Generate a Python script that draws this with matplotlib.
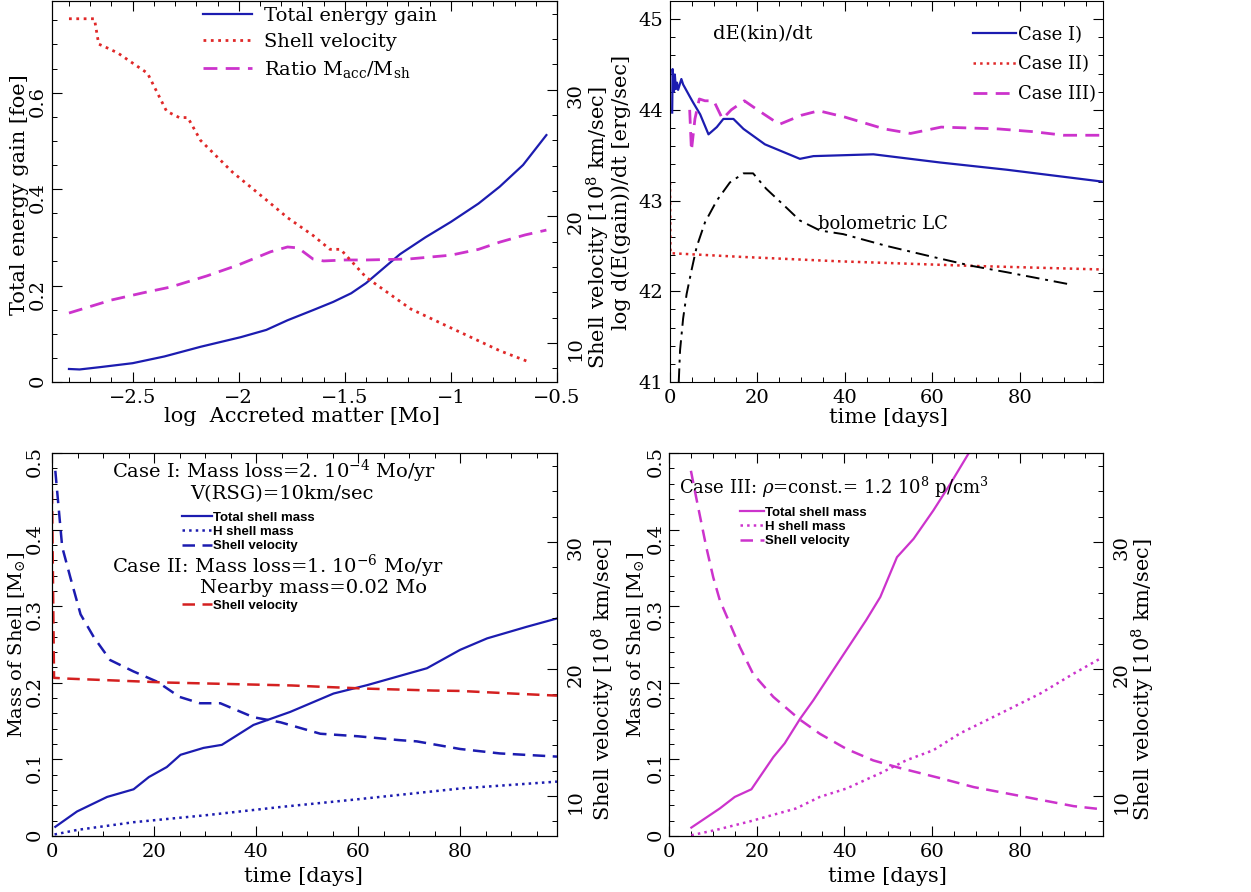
import numpy as np
import matplotlib.pyplot as plt
from matplotlib.ticker import MultipleLocator, FuncFormatter

plt.rcParams['font.family'] = 'DejaVu Serif'
plt.rcParams['mathtext.fontset'] = 'dejavuserif'
plt.rcParams['font.size'] = 13

W, H = 1251, 892

BLUE = '#1c1cb0'
RED = '#e02828'
MAGENTA = '#cc33cc'

# ---------------- top left: vs log accreted matter ----------------
acc_energy_x = [-2.80, -2.75, -2.65, -2.50, -2.35, -2.18, -1.99, -1.87, -1.77, -1.65, -1.555,
                -1.47, -1.40, -1.32, -1.24, -1.12, -1.0, -0.87, -0.77, -0.66, -0.55]
energy_gain = [0.027, 0.026, 0.031, 0.039, 0.053, 0.073, 0.093, 0.108, 0.128, 0.149, 0.166,
               0.184, 0.205, 0.235, 0.265, 0.300, 0.332, 0.370, 0.405, 0.450, 0.512]

acc_vel_x = [-2.80, -2.68, -2.66, -2.62, -2.57, -2.43, -2.34, -2.28, -2.24, -2.18, -2.03, -1.87,
             -1.77, -1.65, -1.57, -1.52, -1.40, -1.19, -1.0, -0.77, -0.63]
shell_vel = [35.6, 35.6, 33.6, 33.3, 32.9, 31.3, 28.3, 27.8, 27.8, 26.0, 23.5, 21.3,
             19.9, 18.5, 17.4, 17.4, 15.2, 12.7, 11.2, 9.4, 8.5]

acc_ratio_x = [-2.80, -2.6, -2.45, -2.32, -2.15, -2.0, -1.85, -1.77, -1.72, -1.65, -1.6, -1.5,
               -1.4, -1.2, -1.0, -0.87, -0.77, -0.65, -0.55]
ratio = [0.143, 0.170, 0.185, 0.197, 0.220, 0.243, 0.270, 0.280, 0.278, 0.255, 0.251, 0.253,
         0.253, 0.255, 0.263, 0.275, 0.290, 0.305, 0.315]

# ---------------- top right: dE/dt ----------------
t_case1 = [0.5, 0.6, 0.9, 1.1, 1.35, 1.6, 1.85, 2.6, 3.0, 4.6, 5.3, 6.9, 8.8, 10.7, 12.2, 14.5,
           16.8, 21.7, 29.7, 32.8, 46.5, 61.7, 77.0, 98.7]
dedt_case1 = [43.97, 44.45, 44.2, 44.39, 44.23, 44.3, 44.22, 44.34, 44.28, 44.14, 44.08, 43.95,
              43.73, 43.81, 43.9, 43.9, 43.79, 43.62, 43.46, 43.49, 43.51, 43.42, 43.34, 43.21]

t_case2 = [0.0, 0.1, 16.0, 38.9, 69.0, 99.0]
dedt_case2 = [43.2, 42.42, 42.38, 42.33, 42.28, 42.24]

t_case3 = [4.5, 4.9, 5.7, 6.7, 8.0, 10.0, 12.0, 14.0, 17.0, 20.0, 25.0, 30.0, 34.0, 40.0,
           49.0, 55.0, 62.0, 75.0, 83.0, 90.0, 99.0]
dedt_case3 = [44.0, 43.55, 43.9, 44.12, 44.1, 44.1, 43.9, 44.0, 44.1, 44.0, 43.84, 43.94, 43.99,
              43.92, 43.79, 43.74, 43.81, 43.79, 43.76, 43.72, 43.72]

t_bol = [2.0, 2.3, 3.0, 3.8, 5.0, 6.1, 8.0, 10.7, 13.7, 16.8, 19.0, 22.0, 26.0, 29.7, 34.3,
         39.6, 49.5, 60.0, 69.0, 77.0, 91.0]
lum_bol = [41.0, 41.35, 41.7, 41.97, 42.25, 42.49, 42.76, 43.0, 43.2, 43.3, 43.3, 43.13, 42.95,
           42.78, 42.67, 42.63, 42.5, 42.38, 42.28, 42.21, 42.08]

# ---------------- bottom left: Case I / II ----------------
t1_mass = [0.65, 4.9, 10.8, 16.0, 19.0, 22.5, 25.2, 29.7, 33.3, 39.5, 46.7, 55.2, 61.8, 73.5,
           80.0, 85.3, 93.0, 99.0]
mass1 = [0.012, 0.032, 0.051, 0.061, 0.077, 0.090, 0.106, 0.115, 0.119, 0.145, 0.162, 0.186,
         0.197, 0.219, 0.243, 0.258, 0.273, 0.284]

t1_hmass = [0.5, 5.0, 16.0, 30.0, 45.0, 60.0, 80.0, 99.0]
hmass1 = [0.002, 0.008, 0.018, 0.027, 0.038, 0.048, 0.062, 0.071]

t1_vel = [0.65, 1.3, 2.0, 3.6, 5.6, 8.2, 11.4, 16.0, 20.6, 25.0, 29.0, 33.0, 39.5, 44.8, 52.6,
          60.0, 68.0, 71.5, 80.0, 87.8, 99.0]
vel1 = [35.6, 32.7, 29.6, 27.2, 24.3, 22.5, 20.7, 19.8, 19.0, 17.8, 17.3, 17.3, 16.2, 15.8, 14.9,
        14.7, 14.4, 14.3, 13.7, 13.35, 13.1]

t2_vel = [0.0, 0.4, 3.0, 22.5, 47.0, 52.6, 61.8, 74.8, 80.0, 90.5, 99.0]
vel2 = [34.0, 19.3, 19.24, 18.93, 18.7, 18.6, 18.45, 18.3, 18.27, 18.06, 17.9]

# ---------------- bottom right: Case III ----------------
t3_mass = [5.1, 11.6, 15.0, 18.8, 20.7, 23.8, 26.4, 29.9, 32.9, 37.5, 40.5, 45.0, 48.2, 52.0,
           55.8, 60.3, 64.2, 68.3]
mass3 = [0.011, 0.036, 0.051, 0.061, 0.077, 0.103, 0.121, 0.153, 0.177, 0.217, 0.243, 0.282,
         0.312, 0.364, 0.388, 0.425, 0.460, 0.499]

t3_hmass = [5.1, 10.8, 18.4, 29.0, 34.4, 40.5, 48.2, 54.2, 60.3, 66.4, 75.6, 84.7, 92.3, 98.8]
hmass3 = [0.001, 0.008, 0.019, 0.036, 0.051, 0.062, 0.082, 0.099, 0.112, 0.134, 0.160, 0.186,
          0.212, 0.233]

t3_vel = [5.0, 6.2, 8.5, 10.1, 11.6, 13.9, 16.2, 19.2, 23.8, 29.9, 34.4, 40.5, 46.6, 52.7, 61.9,
          69.5, 77.1, 84.7, 92.3, 98.8]
vel3 = [35.6, 33.5, 29.6, 27.2, 25.4, 23.56, 21.7, 19.6, 17.8, 16.0, 14.9, 13.7, 12.8, 12.2, 11.4,
        10.7, 10.2, 9.7, 9.2, 8.95]


def fmt(v, pos):
    return ('%g' % v).replace('-', '\u2212')


def style(ax, xmaj, xmin, ymaj, ymin, top=True, right=True):
    ax.xaxis.set_major_locator(MultipleLocator(xmaj))
    ax.xaxis.set_minor_locator(MultipleLocator(xmin))
    ax.yaxis.set_major_locator(MultipleLocator(ymaj))
    ax.yaxis.set_minor_locator(MultipleLocator(ymin))
    ax.xaxis.set_major_formatter(FuncFormatter(fmt))
    ax.yaxis.set_major_formatter(FuncFormatter(fmt))
    ax.tick_params(which='both', direction='in', top=top, right=right, labelsize=14)
    ax.tick_params(which='major', length=7, width=0.8)
    ax.tick_params(which='minor', length=3.5, width=0.7)
    ax.tick_params(axis='x', pad=5)


def style_right(axr, ymaj, ymin):
    axr.yaxis.set_major_locator(MultipleLocator(ymaj))
    axr.yaxis.set_minor_locator(MultipleLocator(ymin))
    axr.yaxis.set_major_formatter(FuncFormatter(fmt))
    axr.tick_params(which='both', direction='in', labelsize=14)
    axr.tick_params(which='major', length=7, width=0.8, pad=7, labelrotation=90)
    axr.tick_params(which='minor', length=3.5, width=0.7)


def ftext(x, y, s, **kw):
    fig.text(x / W, 1 - y / H, s, ha='center', va='center', **kw)


fig = plt.figure(figsize=(W / 100, H / 100), dpi=100)

ax1 = fig.add_axes([52 / W, 1 - 382 / H, 505 / W, 381 / H])
ax2 = fig.add_axes([670 / W, 1 - 382 / H, 433 / W, 381 / H])
ax3 = fig.add_axes([52 / W, 1 - 836 / H, 505 / W, 383 / H])
ax4 = fig.add_axes([669 / W, 1 - 836 / H, 434 / W, 383 / H])

# ---- top left ----
style(ax1, 0.5, 0.1, 0.2, 0.05, right=False)
ax1.tick_params(axis='y', labelrotation=90, pad=4)
ax1.set_xlim(-2.88, -0.5)
ax1.set_ylim(0, 0.79)
ax1r = ax1.twinx()
ax1r.set_ylim(6.93, 37.0)
style_right(ax1r, 10, 2)
l1, = ax1.plot(acc_energy_x, energy_gain, color=BLUE, lw=1.6)
l3, = ax1.plot(acc_ratio_x, ratio, color=MAGENTA, lw=2, dashes=(5, 3))
l2, = ax1r.plot(acc_vel_x, shell_vel, color=RED, lw=2, linestyle=':')
ax1r.legend([l1, l2, l3], ['Total energy gain', 'Shell velocity',
                           r'Ratio M$_{\rm acc}$/M$_{\rm sh}$'],
            loc='upper left', bbox_to_anchor=(0.292, 0.995), frameon=False, fontsize=14,
            handlelength=2.5, handletextpad=0.6, labelspacing=0.42, borderpad=0.2,
            borderaxespad=0)

# ---- top right ----
style(ax2, 20, 5, 1, 0.2)
ax2.tick_params(axis='y', pad=5)
ax2.set_xlim(0, 99)
ax2.set_ylim(41, 45.2)
c1, = ax2.plot(t_case1, dedt_case1, color=BLUE, lw=1.6)
c2, = ax2.plot(t_case2, dedt_case2, color=RED, lw=1.8, linestyle=':')
c3, = ax2.plot(t_case3, dedt_case3, color=MAGENTA, lw=2, dashes=(5, 3))
ax2.plot(t_bol, lum_bol, color='black', lw=1.4, dashes=(7, 3, 1.5, 3))
ax2.text(9.9, 44.83, 'dE(kin)/dt', ha='left', va='center', fontsize=14)
ax2.text(33.9, 42.74, 'bolometric LC', ha='left', va='center', fontsize=13)
ax2.legend([c1, c2, c3], ['Case I)', 'Case II)', 'Case III)'], loc='upper left',
           bbox_to_anchor=(0.70, 0.935), frameon=False, fontsize=13, handlelength=2.4,
           handletextpad=0.1, labelspacing=0.65, borderpad=0, borderaxespad=0)

# ---- bottom left ----
style(ax3, 20, 5, 0.1, 0.02, right=False)
ax3.tick_params(axis='y', labelrotation=90, pad=6)
ax3.set_xlim(0, 99)
ax3.set_ylim(0, 0.5)
ax3r = ax3.twinx()
ax3r.set_ylim(6.85, 37.0)
style_right(ax3r, 10, 2)
m1, = ax3.plot(t1_mass, mass1, color=BLUE, lw=1.6)
h1, = ax3.plot(t1_hmass, hmass1, color=BLUE, lw=1.8, linestyle=':')
v1, = ax3r.plot(t1_vel, vel1, color=BLUE, lw=1.8, dashes=(5, 3))
v2, = ax3r.plot(t2_vel, vel2, color='#d42020', lw=1.8, dashes=(5, 3))
ax3.text(0.119, 0.953, r'Case I: Mass loss=2. 10$^{-4}$ Mo/yr', transform=ax3.transAxes,
         ha='left', va='center', fontsize=14)
ax3.text(0.273, 0.893, 'V(RSG)=10km/sec', transform=ax3.transAxes, ha='left', va='center',
         fontsize=14)
ax3.text(0.119, 0.705, r'Case II: Mass loss=1. 10$^{-6}$ Mo/yr', transform=ax3.transAxes,
         ha='left', va='center', fontsize=14)
ax3.text(0.293, 0.648, 'Nearby mass=0.02 Mo', transform=ax3.transAxes, ha='left',
         va='center', fontsize=14)
small = dict(family='Liberation Sans', weight='bold', size=9.5)
leg3a = ax3r.legend([m1, h1, v1], ['Total shell mass', 'H shell mass', 'Shell velocity'],
                    loc='upper left', bbox_to_anchor=(0.257, 0.847), frameon=False, prop=small,
                    handlelength=2.3, handletextpad=0.1, labelspacing=0.15, borderpad=0,
                    borderaxespad=0)
ax3r.add_artist(leg3a)
ax3r.legend([v2], ['Shell velocity'], loc='upper left', bbox_to_anchor=(0.257, 0.617),
            frameon=False, prop=small, handlelength=2.3, handletextpad=0.1, borderpad=0,
            borderaxespad=0)

# ---- bottom right ----
style(ax4, 20, 5, 0.1, 0.02, right=False)
ax4.tick_params(axis='y', labelrotation=90, pad=3)
ax4.set_xlim(0, 99)
ax4.set_ylim(0, 0.5)
ax4r = ax4.twinx()
ax4r.set_ylim(6.85, 37.0)
style_right(ax4r, 10, 2)
m3, = ax4.plot(t3_mass, mass3, color=MAGENTA, lw=1.6)
h3, = ax4.plot(t3_hmass, hmass3, color=MAGENTA, lw=1.8, linestyle=':')
v3, = ax4r.plot(t3_vel, vel3, color=MAGENTA, lw=1.8, dashes=(5, 3))
ax4.text(0.023, 0.911, r'Case III: $\rho$=const.= 1.2 10$^8$ p/cm$^3$',
         transform=ax4.transAxes, ha='left', va='center', fontsize=13)
ax4r.legend([m3, h3, v3], ['Total shell mass', 'H shell mass', 'Shell velocity'],
            loc='upper left', bbox_to_anchor=(0.164, 0.86), frameon=False, prop=small,
            handlelength=1.8, handletextpad=0.1, labelspacing=0.15, borderpad=0,
            borderaxespad=0)

# ---- axis titles ----
ftext(20, 195, 'Total energy gain [foe]', rotation=90, fontsize=15)
ftext(598, 228, r'Shell velocity [10$^8$ km/sec]', rotation=90, fontsize=15)
ftext(621, 192, 'log d(E(gain))/dt [erg/sec]', rotation=90, fontsize=15)
ftext(302, 416, 'log  Accreted matter [Mo]', fontsize=15)
ftext(888, 417, 'time [days]', fontsize=15)
ftext(17, 645, r'Mass of Shell [M$_{\odot}$]', rotation=90, fontsize=14)
ftext(603, 680, r'Shell velocity [10$^8$ km/sec]', rotation=90, fontsize=15)
ftext(303, 876, 'time [days]', fontsize=15)
ftext(636, 645, r'Mass of Shell [M$_{\odot}$]', rotation=90, fontsize=14)
ftext(1143, 680, r'Shell velocity [10$^8$ km/sec]', rotation=90, fontsize=15)
ftext(887, 876, 'time [days]', fontsize=15)

fig.savefig('out.png', dpi=100)
